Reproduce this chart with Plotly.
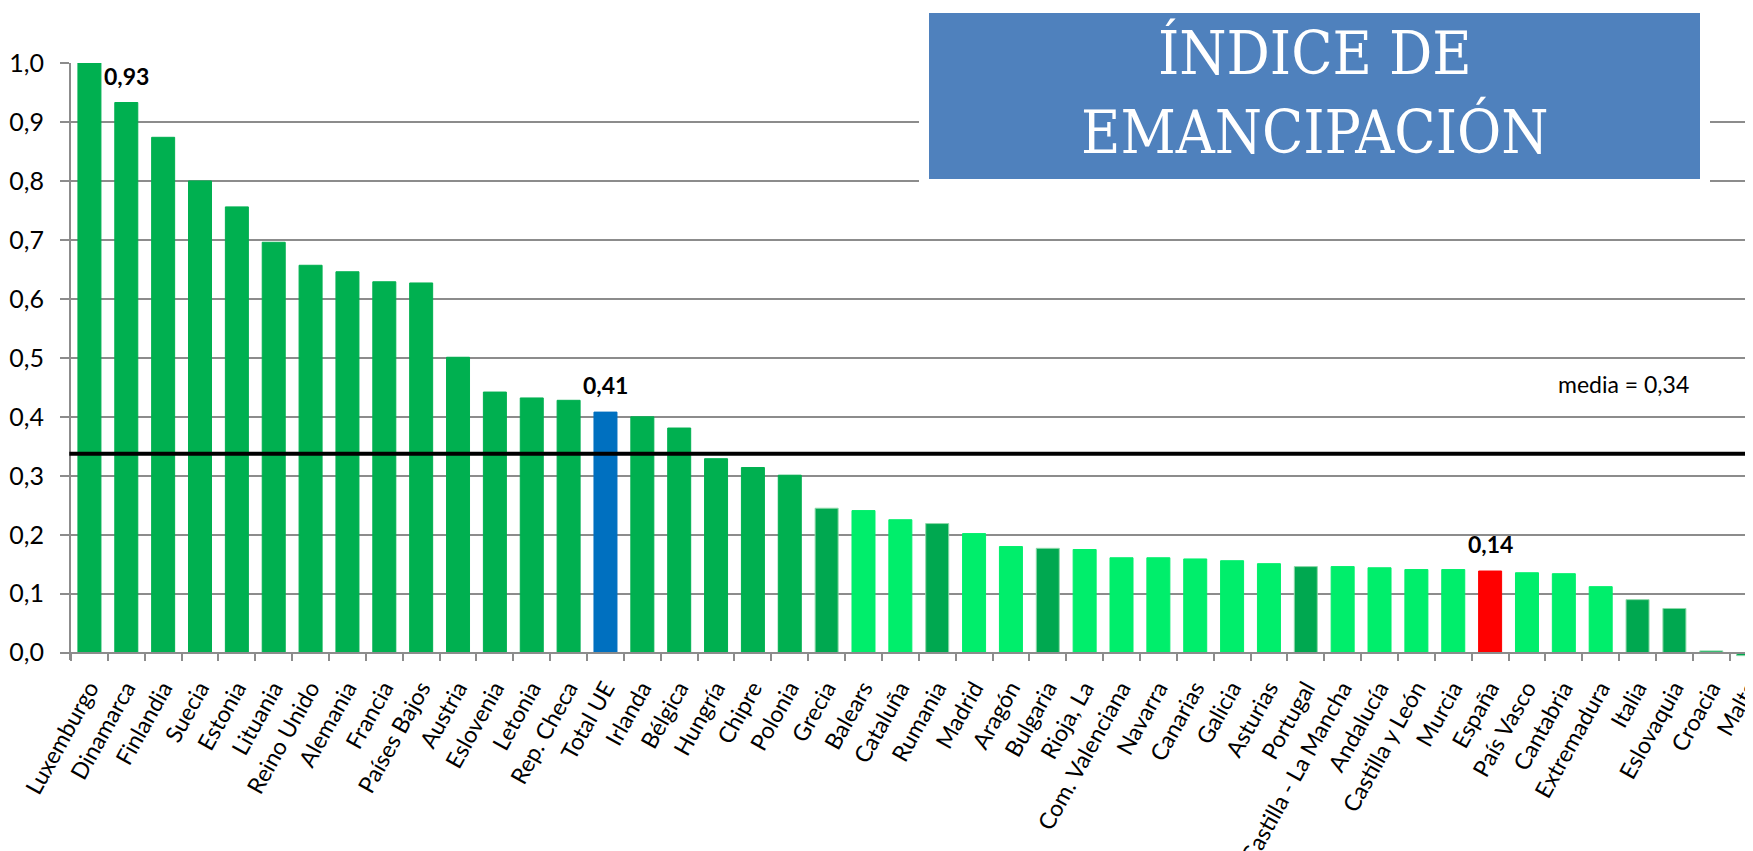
import plotly.graph_objects as go

categories = ["Luxemburgo", "Dinamarca", "Finlandia", "Suecia", "Estonia", "Lituania",
              "Reino Unido", "Alemania", "Francia", "Países Bajos", "Austria", "Eslovenia",
              "Letonia", "Rep. Checa", "Total UE", "Irlanda", "Bélgica", "Hungría", "Chipre",
              "Polonia", "Grecia", "Balears", "Cataluña", "Rumania", "Madrid", "Aragón",
              "Bulgaria", "Rioja, La", "Com. Valenciana", "Navarra", "Canarias", "Galicia",
              "Asturias", "Portugal", "Castilla - La Mancha", "Andalucía", "Castilla y León",
              "Murcia", "España", "País Vasco", "Cantabria", "Extremadura", "Italia",
              "Eslovaquia", "Croacia", "Malta"]

values = [1.00, 0.933, 0.874, 0.800, 0.756, 0.696, 0.657, 0.646, 0.629, 0.627, 0.501, 0.442,
          0.432, 0.428, 0.408, 0.400, 0.381, 0.329, 0.314, 0.301, 0.245, 0.241, 0.2255, 0.219,
          0.202, 0.180, 0.177, 0.175, 0.161, 0.161, 0.159, 0.156, 0.151, 0.146, 0.146, 0.144,
          0.141, 0.141, 0.1385, 0.1356, 0.134, 0.112, 0.090, 0.075, 0.003, -0.005]

# group of each bar: c = country (early), m = country (late), r = Spanish region, eu, es
groups = ["c"] * 14 + ["eu", "c", "c", "c", "c", "c", "m", "r", "r", "m", "r", "r", "m", "r",
          "r", "r", "r", "r", "r", "m", "r", "r", "r", "r", "es", "r", "r", "r", "m", "m", "m", "m"]

mean_value = 0.3375
mean_label = "media = 0,34"
labelled = {"Dinamarca": "0,93", "Total UE": "0,41", "España": "0,14"}

y_ticks = [0.0, 0.1, 0.2, 0.3, 0.4, 0.5, 0.6, 0.7, 0.8, 0.9, 1.0]

color_map = {"c": "#00B050", "m": "#00A850", "r": "#00EE6B", "eu": "#0070C0", "es": "#FF0000"}
line_map = {"c": "#00B050", "m": "#8CD9A8", "r": "#00EE6B", "eu": "#0070C0", "es": "#FF0000"}

FONT = "Lato, 'Open Sans', sans-serif"
GRID = "#8C8C8C"

# page has an 8px body margin; figure is sized to fit the window
OFF = 8
W, H = 1753 - OFF, 851 - OFF
L, T, B = 63, 55, 191
pw = W - L
ph = H - T - B


def px_x(x):  # page x -> paper fraction
    return (x - OFF - L) / pw


def px_y(y):  # page y -> paper fraction
    return (H - B - (y - OFF)) / ph


fig = go.Figure()
fig.add_trace(go.Bar(
    x=categories, y=values,
    marker=dict(color=[color_map[g] for g in groups],
                line=dict(color=[line_map[g] for g in groups], width=1)),
    hoverinfo="x+y",
))

# mean line
fig.add_shape(type="line", xref="paper", yref="y", x0=-0.001, x1=1, y0=mean_value, y1=mean_value,
              line=dict(color="black", width=4), layer="above")

fig.add_annotation(x=px_x(1691), xref="paper", y=px_y(384), yref="paper", text=mean_label,
                   showarrow=False, font=dict(family=FONT, size=23, color="black"),
                   xanchor="right", yanchor="middle")

for cat, txt in labelled.items():
    i = categories.index(cat)
    fig.add_annotation(x=cat, y=values[i], text="<b>" + txt + "</b>", showarrow=False,
                       font=dict(family=FONT, size=23, color="black"),
                       yanchor="bottom", yshift=11)

# title box
fig.add_shape(type="rect", xref="paper", yref="paper",
              x0=px_x(924), x1=px_x(1705), y0=px_y(184), y1=px_y(8),
              fillcolor="#4F81BD", line=dict(color="white", width=10), layer="above")
fig.add_annotation(xref="paper", yref="paper", x=px_x(1315), y=px_y(53),
                   text="ÍNDICE DE", showarrow=False, xanchor="center", yanchor="middle",
                   font=dict(family="DejaVu Serif Condensed, serif", size=60, color="white"))
fig.add_annotation(xref="paper", yref="paper", x=px_x(1315), y=px_y(131),
                   text="EMANCIPACIÓN", showarrow=False, xanchor="center", yanchor="middle",
                   font=dict(family="DejaVu Serif Condensed, serif", size=60, color="white"))

y_low = -(ph / 589.7 - 1.0)
x_hi = -0.5 + pw / 36.86

fig.update_layout(
    width=W, height=H,
    margin=dict(l=L, r=0, t=T, b=B, pad=0, autoexpand=False),
    paper_bgcolor="white", plot_bgcolor="white",
    separators=", ",
    bargap=0.376,
    showlegend=False,
    font=dict(family=FONT, size=21, color="black"),
    xaxis=dict(
        type="category", range=[-0.5, x_hi], automargin=False,
        anchor="free", position=(-y_low) / (1.0 - y_low),
        showline=True, linecolor=GRID, linewidth=2,
        ticks="outside", ticklen=7, tickwidth=2, tickcolor=GRID, tickson="boundaries",
        tickangle=-61, tickfont=dict(family=FONT, size=23, color="black"),
        ticklabelstandoff=12,
        showgrid=False,
    ),
    yaxis=dict(
        range=[y_low, 1.0], tickvals=y_ticks, tickformat=".1f", automargin=False,
        showline=True, linecolor=GRID, linewidth=2,
        ticks="outside", ticklen=9, tickwidth=2, tickcolor=GRID,
        showgrid=True, gridcolor=GRID, gridwidth=2, zeroline=False,
        tickfont=dict(family=FONT, size=25, color="black"),
        ticklabelstandoff=11,
    ),
)

fig.write_html("out.html")
